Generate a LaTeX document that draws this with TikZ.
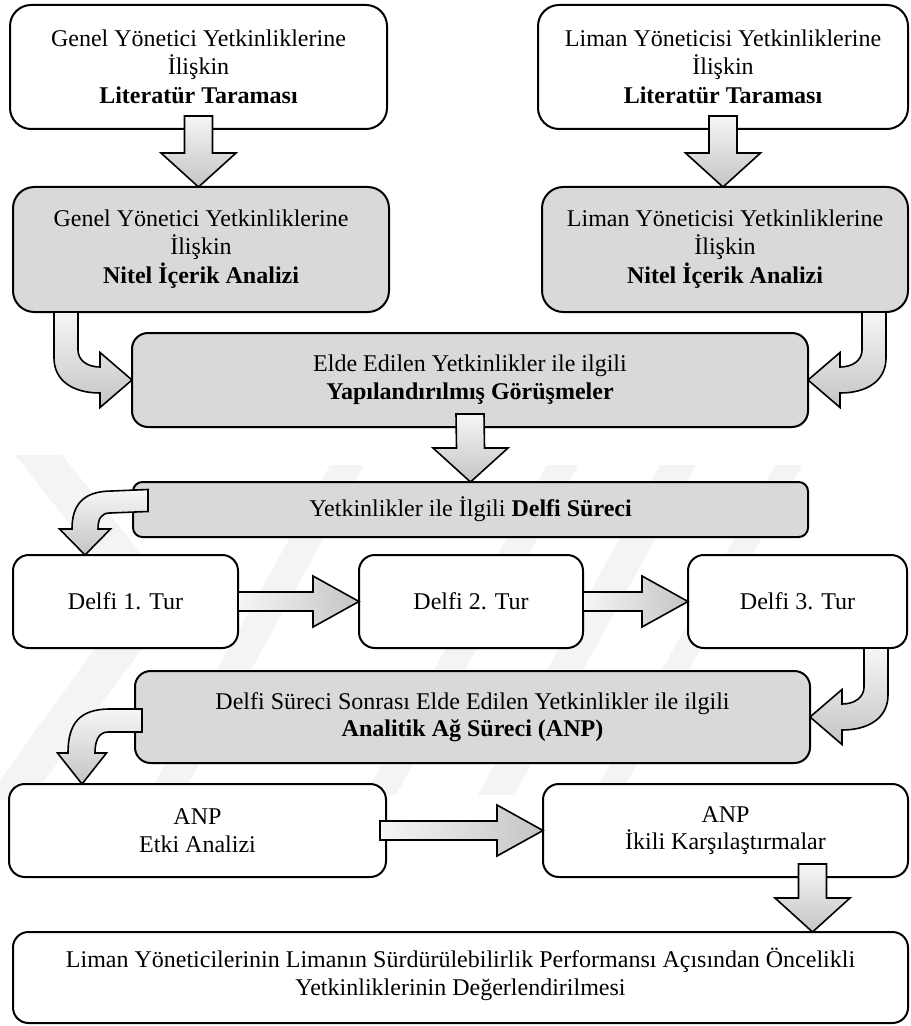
\documentclass[tikz,border=0pt]{standalone}
\usepackage{fontspec}
\setmainfont{Liberation Serif}
\usetikzlibrary{calc}

\definecolor{boxgray}{HTML}{D9D9D9}
\definecolor{arrowlight}{HTML}{F6F6F6}
\definecolor{arrowdark}{HTML}{C4C4C4}
\definecolor{wmark}{HTML}{F4F4F4}

\tikzset{
  stage/.style={draw=black, line width=1pt, align=center, inner sep=0pt, outer sep=0pt,
                font=\fontsize{12}{13.8}\selectfont},
  plainbox/.style={stage, fill=white},
  graybox/.style={stage, fill=boxgray},
  blockarrow/.style={draw=black, line width=0.8pt, line join=miter},
  vshade/.style={blockarrow, top color=arrowlight, bottom color=arrowdark},
  hshade/.style={blockarrow, left color=arrowlight, right color=arrowdark},
  wmband/.style={fill=wmark, draw=none}
}

% rounded stage box given by its corners (pixel units)
\newcommand{\stagebox}[7]{%
  \pgfmathsetmacro{\sbx}{(#3+#5)/2}%
  \pgfmathsetmacro{\sby}{(#4+#6)/2}%
  \pgfmathsetmacro{\sbw}{(#5-#3)*0.5}%
  \pgfmathsetmacro{\sbh}{(#6-#4)*0.5}%
  \pgfmathsetmacro{\sbr}{\sbh*0.17}%
  \node[#2, minimum width=\sbw pt, minimum height=\sbh pt, rounded corners=\sbr pt] (#1) at (\sbx,\sby) {#7};}

% straight block arrow pointing down: from a point on the source's lower edge to the tip
\newcommand{\blockdown}[2]{%
  \shadedraw[vshade] ($(#1)+(-14,-13)$) -- ($(#2)+(-14,-34)$) -- ($(#2)+(-37.5,-34)$) -- (#2)
    -- ($(#2)+(37.5,-34)$) -- ($(#2)+(14,-34)$) -- ($(#1)+(14,-13)$) -- cycle;}

% straight block arrow pointing right
\newcommand{\blockright}[2]{%
  \shadedraw[hshade] ($(#1)+(0,-9.5)$) -- ($(#2)+(-46,-9.5)$) -- ($(#2)+(-46,-25.5)$) -- (#2)
    -- ($(#2)+(-46,25.5)$) -- ($(#2)+(-46,9.5)$) -- ($(#1)+(0,9.5)$) -- cycle;}

\begin{document}
\begin{tikzpicture}[x=0.5pt, y=-0.5pt]
\useasboundingbox (0,0) rectangle (910,1026);

% faint background emblem
\fill[wmband] (15,455) -- (62,455) -- (178,600) -- (30,800) -- (0,800) -- (0,780) -- (130,600) -- cycle;
\fill[wmband] (330,465) -- (364,465) -- (182,795) -- (148,795) -- cycle;
\fill[wmband] (547,465) -- (578,465) -- (396,795) -- (365,795) -- cycle;
\fill[wmband] (660,465) -- (696,465) -- (514,795) -- (478,795) -- cycle;
\fill[wmband] (775,465) -- (802,465) -- (620,795) -- (593,795) -- cycle;

% stages
\stagebox{tl}{plainbox}{10}{5}{387}{129}{Genel Yönetici Yetkinliklerine\\İlişkin\\[1pt]\textbf{Literatür Taraması}}
\stagebox{tr}{plainbox}{538}{5}{908}{129}{Liman Yöneticisi Yetkinliklerine\\İlişkin\\[1pt]\textbf{Literatür Taraması}}
\stagebox{tlg}{graybox}{13}{187}{389}{312}{Genel Yönetici Yetkinliklerine\\İlişkin\\[1pt]\textbf{Nitel İçerik Analizi}}
\stagebox{trg}{graybox}{542}{187}{908}{312}{Liman Yöneticisi Yetkinliklerine\\İlişkin\\[1pt]\textbf{Nitel İçerik Analizi}}
\stagebox{elde}{graybox}{132}{333}{808}{427}{Elde Edilen Yetkinlikler ile ilgili\\\textbf{Yapılandırılmış Görüşmeler}}
\stagebox{delfi}{graybox}{133}{482}{808}{537}{Yetkinlikler ile İlgili \textbf{Delfi Süreci}}
\stagebox{d1}{plainbox}{13}{555}{238}{648}{Delfi 1. Tur}
\stagebox{d2}{plainbox}{359}{555}{583}{648}{Delfi 2. Tur}
\stagebox{d3}{plainbox}{688}{555}{907}{648}{Delfi 3. Tur}
\stagebox{sonra}{graybox}{135}{671}{810}{763}{Delfi Süreci Sonrası Elde Edilen Yetkinlikler ile ilgili\\\textbf{Analitik Ağ Süreci (ANP)}}
\stagebox{anp1}{plainbox}{9}{784}{386}{877}{ANP\\Etki Analizi}
\stagebox{anp2}{plainbox}{543}{784}{908}{877}{ANP\\İkili Karşılaştırmalar}
\stagebox{final}{plainbox}{13}{932}{908}{1023}{\raisebox{0pt}[\height][0pt]{}Liman Yöneticilerinin Limanın Sürdürülebilirlik Performansı Açısından Öncelikli\\Yetkinliklerinin Değerlendirilmesi\rule[-6pt]{0pt}{6pt}}

% straight connectors
\coordinate (a1) at (tlg.north -| tl.south);
\coordinate (a2) at (trg.north -| tr.south);
\blockdown{tl.south}{a1}
\blockdown{tr.south}{a2}
\blockdown{elde.south}{delfi.north}
\coordinate (k1) at ($(anp2.south)+(87,0)$);
\coordinate (k2) at (final.north -| k1);
\blockdown{k1}{k2}
\blockright{d1.east}{d2.west}
\blockright{d2.east}{d3.west}
\blockright{$(anp1.east)+(-6,0)$}{anp2.west}

% curved connector: left analysis into the interviews
\coordinate (s1) at (tlg.south -| elde.west);
\shadedraw[vshade] ($(s1)+(-78,0)$) -- ($(elde.west)+(-78,-22)$)
  .. controls ($(elde.west)+(-78,0)$) and ($(elde.west)+(-60,13)$) .. ($(elde.west)+(-32,13)$)
  -- ($(elde.west)+(-32,27.5)$) -- (elde.west) -- ($(elde.west)+(-32,-27.5)$) -- ($(elde.west)+(-32,-13)$)
  .. controls ($(elde.west)+(-45,-13)$) and ($(elde.west)+(-54,-20)$) .. ($(elde.west)+(-54,-30)$)
  -- ($(s1)+(-54,0)$) -- cycle;

% curved connector: right analysis into the interviews
\coordinate (s2) at (trg.south -| elde.east);
\shadedraw[vshade] ($(s2)+(78,0)$) -- ($(elde.east)+(78,-22)$)
  .. controls ($(elde.east)+(78,0)$) and ($(elde.east)+(60,13)$) .. ($(elde.east)+(32,13)$)
  -- ($(elde.east)+(32,27.5)$) -- (elde.east) -- ($(elde.east)+(32,-27.5)$) -- ($(elde.east)+(32,-13)$)
  .. controls ($(elde.east)+(45,-13)$) and ($(elde.east)+(54,-20)$) .. ($(elde.east)+(54,-30)$)
  -- ($(s2)+(54,0)$) -- cycle;

% curved connector: third round into the ANP stage
\coordinate (s3) at (d3.south -| sonra.east);
\shadedraw[vshade] ($(s3)+(78,0)$) -- ($(sonra.east)+(78,-22)$)
  .. controls ($(sonra.east)+(78,0)$) and ($(sonra.east)+(60,13)$) .. ($(sonra.east)+(32,13)$)
  -- ($(sonra.east)+(32,27.5)$) -- (sonra.east) -- ($(sonra.east)+(32,-27.5)$) -- ($(sonra.east)+(32,-13)$)
  .. controls ($(sonra.east)+(45,-13)$) and ($(sonra.east)+(54,-20)$) .. ($(sonra.east)+(54,-30)$)
  -- ($(s3)+(54,0)$) -- cycle;

% curved connector: Delphi process into the first round
\coordinate (t4) at ($(d1.north west)+(72,0)$);
\coordinate (e4) at ($(delfi.west)+(15,0)$);
\shadedraw[vshade] ($(e4)+(0,-20)$) -- ($(t4)+(27,-64)$)
  .. controls ($(t4)+(-2,-64)$) and ($(t4)+(-13,-50)$) .. ($(t4)+(-13,-26)$)
  -- ($(t4)+(-25.5,-26)$) -- (t4) -- ($(t4)+(25.5,-26)$) -- ($(t4)+(13,-26)$)
  .. controls ($(t4)+(13,-36)$) and ($(t4)+(16,-42)$) .. ($(t4)+(25,-42)$)
  -- ($(e4)+(0,2)$) -- cycle;

% curved connector: ANP stage into the impact analysis
\coordinate (t5) at ($(anp1.north west)+(73,0)$);
\coordinate (e5) at ($(sonra.west)+(7,0)$);
\shadedraw[vshade] ($(e5)+(0,-8)$) -- ($(t5)+(28,-75)$)
  .. controls ($(t5)+(-3,-75)$) and ($(t5)+(-14,-60)$) .. ($(t5)+(-14,-31)$)
  -- ($(t5)+(-24.5,-31)$) -- (t5) -- ($(t5)+(24.5,-31)$) -- ($(t5)+(13,-31)$)
  .. controls ($(t5)+(13,-42)$) and ($(t5)+(16,-52)$) .. ($(t5)+(26,-52)$)
  -- ($(e5)+(0,15)$) -- cycle;
\end{tikzpicture}
\end{document}
